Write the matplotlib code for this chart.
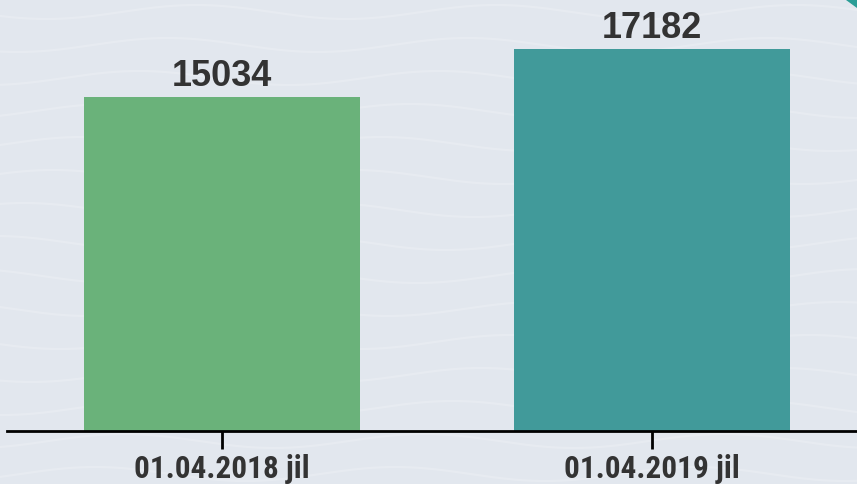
import numpy as np
import matplotlib
matplotlib.use("Agg")
import matplotlib.pyplot as plt
from matplotlib.patches import Polygon

categories = ["01.04.2018 jil", "01.04.2019 jil"]
values = [15034, 17182]
colors = ["#6ab27a", "#419a9a"]

W, H = 857, 485
fig = plt.figure(figsize=(W / 100, H / 100), dpi=100)
fig.patch.set_facecolor("#e2e7ee")

# subtle wavy background
bg = fig.add_axes([0, 0, 1, 1], zorder=-1)
bg.set_xlim(0, W); bg.set_ylim(H, 0); bg.axis("off")
xs = np.linspace(0, W, 400)
for k, y0 in enumerate(np.arange(-20, H + 40, 33)):
    ys = y0 + 7 * np.sin(2 * np.pi * xs / 300 + k * 0.6)
    bg.plot(xs, ys, color="white", lw=1.6, alpha=0.18)
bg.add_patch(Polygon([[846, 0], [W, 0], [W, 8]], closed=True, color="#2a9d96"))

ax = fig.add_axes([7 / W, (H - 432) / H, 1 - 7 / W, 432 / H])
ax.patch.set_alpha(0)
x = np.arange(len(categories))
ax.bar(x, values, width=0.642, color=colors, zorder=2)
ax.set_xlim(-0.5, 1.478)
ax.set_ylim(0, 19450)

for xi, v in zip(x, values):
    ax.annotate(str(v), (xi, v), xytext=(0, 3), textcoords="offset points",
                ha="center", va="bottom", fontsize=26, fontweight="bold",
                family="Liberation Sans", color="#333333")

for s in ["top", "right", "left"]:
    ax.spines[s].set_visible(False)
ax.spines["bottom"].set_linewidth(2)
ax.spines["bottom"].set_color("black")
ax.set_yticks([])
ax.set_xticks(x)
ax.set_xticklabels(categories, fontsize=22.5, fontweight="bold",
                   family=["Roboto Condensed", "Roboto"], color="#333333")
ax.tick_params(axis="x", length=13, width=2, color="black", pad=3)

fig.savefig("out.png", dpi=100, facecolor=fig.get_facecolor())
